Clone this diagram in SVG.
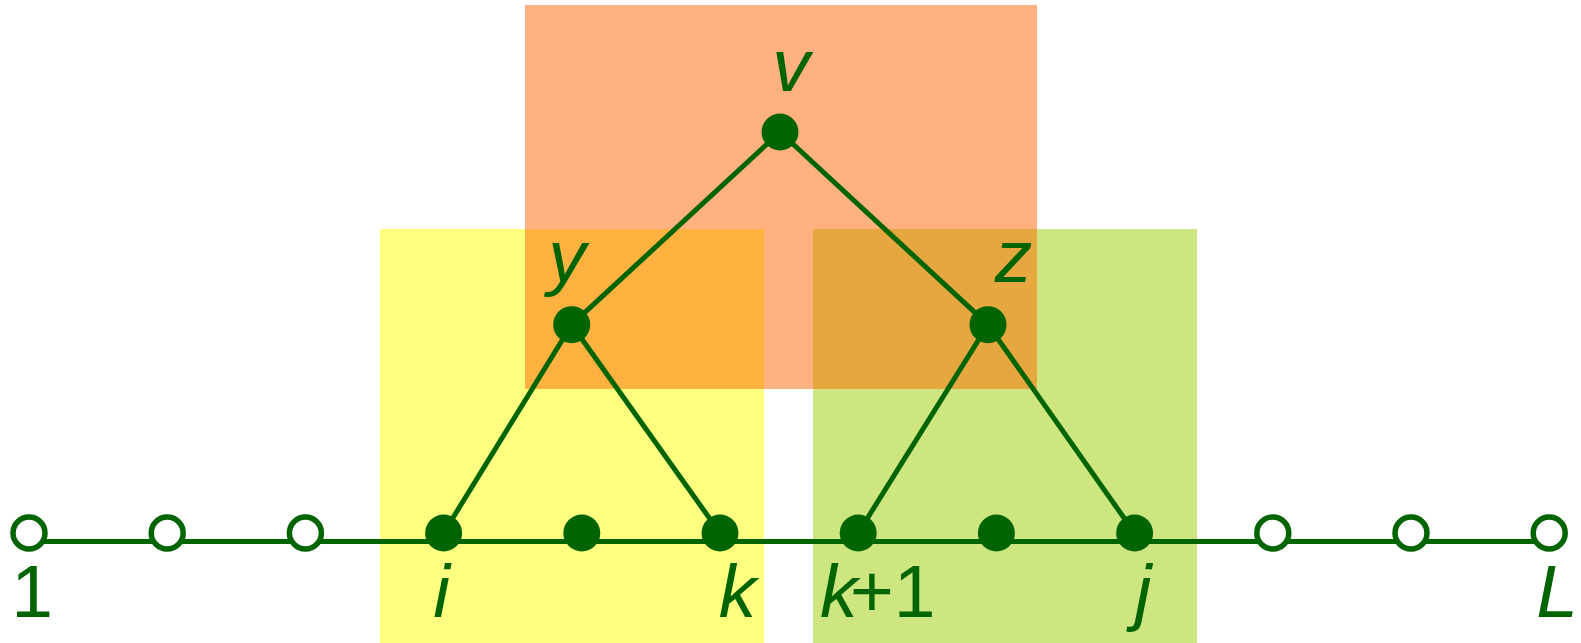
<svg xmlns="http://www.w3.org/2000/svg" width="1581" height="643" viewBox="0 0 1581 643">
<style>
.edge{stroke:#006400;stroke-width:5;fill:none}
.open{fill:#ffffff;stroke:#006400;stroke-width:5.5}
.full{fill:#006400}
</style>
<rect width="1581" height="643" fill="#ffffff"/>
<g id="regions">
<rect id="region-left" x="380" y="229" width="384" height="414" fill="#ffff80"/>
<rect id="region-right" x="813" y="229" width="384" height="414" fill="#cde680"/>
<rect id="region-top" x="525" y="5" width="512" height="384" fill="#ff6600" fill-opacity="0.5"/>
</g>
<g id="connectors">
<line class="edge" x1="29" y1="541.5" x2="1549" y2="541.5"/>
<line class="edge" x1="780" y1="132" x2="571.7" y2="324.7"/>
<line class="edge" x1="780" y1="132" x2="988" y2="324.7"/>
<line class="edge" x1="571.7" y1="324.7" x2="443.6" y2="533"/>
<line class="edge" x1="571.7" y1="324.7" x2="720" y2="533"/>
<line class="edge" x1="988" y1="324.7" x2="858.2" y2="533"/>
<line class="edge" x1="988" y1="324.7" x2="1134.6" y2="533"/>
</g>
<g id="node-1"><circle class="open" cx="29" cy="533" r="16"/><text x="32" y="617" font-family="'Liberation Sans', sans-serif" font-size="75" fill="#006400" text-anchor="middle">1</text></g>
<g id="node-2"><circle class="open" cx="167.2" cy="533" r="16"/></g>
<g id="node-3"><circle class="open" cx="305.4" cy="533" r="16"/></g>
<g id="node-i"><circle class="full" cx="443.6" cy="533" r="18.5"/><text x="441.5" y="617" font-family="'Liberation Sans', sans-serif" font-size="75" font-style="italic" fill="#006400" text-anchor="middle">i</text></g>
<g id="node-5"><circle class="full" cx="581.8" cy="533" r="18.5"/></g>
<g id="node-k"><circle class="full" cx="720" cy="533" r="18.5"/><text x="737.5" y="617" font-family="'Liberation Sans', sans-serif" font-size="75" font-style="italic" fill="#006400" text-anchor="middle">k</text></g>
<g id="node-k1"><circle class="full" cx="858.2" cy="533" r="18.5"/><text x="820" y="617" font-family="'Liberation Sans', sans-serif" font-size="75" font-style="italic" fill="#006400" text-anchor="start">k<tspan x="850" font-style="normal">+1</tspan></text></g>
<g id="node-8"><circle class="full" cx="996.4" cy="533" r="18.5"/></g>
<g id="node-j"><circle class="full" cx="1134.6" cy="533" r="18.5"/><text x="1143" y="617" font-family="'Liberation Sans', sans-serif" font-size="75" font-style="italic" fill="#006400" text-anchor="middle">j</text></g>
<g id="node-10"><circle class="open" cx="1272.8" cy="533" r="16"/></g>
<g id="node-11"><circle class="open" cx="1411" cy="533" r="16"/></g>
<g id="node-L"><circle class="open" cx="1549.2" cy="533" r="16"/><text x="1557" y="617" font-family="'Liberation Sans', sans-serif" font-size="75" font-style="italic" fill="#006400" text-anchor="middle">L</text></g>
<g id="node-v"><circle class="full" cx="780" cy="132" r="18.5"/><text x="791" y="91" font-family="'Liberation Sans', sans-serif" font-size="75" font-style="italic" fill="#006400" text-anchor="middle">v</text></g>
<g id="node-y"><circle class="full" cx="571.7" cy="324.7" r="18.5"/><text x="567" y="282" font-family="'Liberation Sans', sans-serif" font-size="75" font-style="italic" fill="#006400" text-anchor="middle">y</text></g>
<g id="node-z"><circle class="full" cx="988" cy="324.7" r="18.5"/><text x="1013.5" y="282" font-family="'Liberation Sans', sans-serif" font-size="75" font-style="italic" fill="#006400" text-anchor="middle">z</text></g>
</svg>
